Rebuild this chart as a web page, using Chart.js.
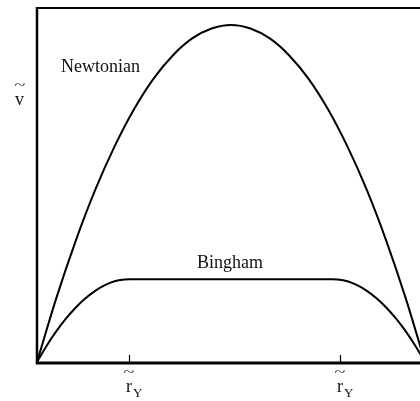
<!DOCTYPE html>
<html>
<head>
<meta charset="utf-8">
<script src="https://cdn.jsdelivr.net/npm/chart.js@4/dist/chart.umd.min.js"></script>
<style>
  html, body { margin: 0; padding: 0; background: #fff; overflow: hidden; }
  canvas { display: block; }
</style>
</head>
<body>
<canvas id="profile" width="440" height="401"></canvas>
<script>
// dimensionless radius across the pipe, wall to wall
const newtRadius = [-1, -0.9, -0.8, -0.7, -0.6, -0.5, -0.4, -0.3, -0.2, -0.1, 0,
                    0.1, 0.2, 0.3, 0.4, 0.5, 0.6, 0.7, 0.8, 0.9, 1];
const newtVelocity = [0, 0.181, 0.343, 0.486, 0.609, 0.714, 0.800, 0.866, 0.914, 0.942, 0.952,
                      0.942, 0.914, 0.866, 0.800, 0.714, 0.609, 0.486, 0.343, 0.181, 0];

const binghamRadius = [-1, -0.95, -0.9, -0.85, -0.8, -0.75, -0.7, -0.65, -0.6, -0.55, -0.52,
                       0, 0.52, 0.55, 0.6, 0.65, 0.7, 0.75, 0.8, 0.85, 0.9, 0.95, 1];
const binghamVelocity = [0, 0.046, 0.087, 0.123, 0.154, 0.180, 0.201, 0.217, 0.228, 0.233, 0.234,
                         0.234, 0.234, 0.233, 0.228, 0.217, 0.201, 0.180, 0.154, 0.123, 0.087, 0.046, 0];

// yield radius marks on the r axis
const yieldTicks = [-0.525, 0.56];

const serif = '"Liberation Serif", "DejaVu Serif", serif';

const toPoints = (xs, ys) => xs.map((x, i) => ({ x: x, y: ys[i] }));

// wide, flat tilde centred on (cx, cy)
function drawTilde(ctx, cx, cy) {
  ctx.save();
  ctx.translate(cx, cy);
  ctx.scale(1, 0.6);
  ctx.font = '20px ' + serif;
  ctx.textAlign = 'center';
  ctx.fillText('~', 0, 5.2);
  ctx.restore();
}

// frame, tick marks and all the lettering
const decorations = {
  id: 'decorations',
  afterDatasetsDraw(chart) {
    const { ctx, chartArea: a, scales } = chart;
    const xs = scales.x, ys = scales.y;
    ctx.save();
    ctx.strokeStyle = '#000';
    ctx.lineCap = 'butt';

    ctx.lineWidth = 2;
    ctx.beginPath();
    ctx.moveTo(a.left - 1, a.top);
    ctx.lineTo(a.right + 20, a.top);
    ctx.stroke();

    ctx.lineWidth = 2.5;
    ctx.beginPath();
    ctx.moveTo(a.left, a.top - 1);
    ctx.lineTo(a.left, a.bottom + 1.5);
    ctx.stroke();

    ctx.lineWidth = 3;
    ctx.beginPath();
    ctx.moveTo(a.left - 1.2, a.bottom + 1);
    ctx.lineTo(a.right + 20, a.bottom + 1);
    ctx.stroke();

    ctx.fillStyle = '#111';
    ctx.textAlign = 'left';
    ctx.textBaseline = 'alphabetic';

    yieldTicks.forEach(t => {
      const px = Math.round(xs.getPixelForValue(t)) + 0.5;
      ctx.lineWidth = 1.2;
      ctx.beginPath();
      ctx.moveTo(px, a.bottom);
      ctx.lineTo(px, a.bottom - 7);
      ctx.stroke();

      ctx.font = '18px ' + serif;
      ctx.fillText('r', px - 3.5, a.bottom + 30);
      ctx.font = '13px ' + serif;
      ctx.fillText('Y', px + 3.5, a.bottom + 35);
      drawTilde(ctx, px - 0.5, a.bottom + 11);
    });

    // axis symbol for velocity
    ctx.font = '18px ' + serif;
    ctx.fillText('v', 15, 105);
    drawTilde(ctx, 20, 86);

    // curve names
    ctx.font = '18px ' + serif;
    ctx.fillText('Newtonian', xs.getPixelForValue(-0.876), ys.getPixelForValue(0.819));
    ctx.fillText('Bingham', xs.getPixelForValue(-0.175), ys.getPixelForValue(0.266));
    ctx.restore();
  }
};

new Chart(document.getElementById('profile'), {
  type: 'line',
  data: {
    datasets: [
      {
        label: 'Newtonian',
        data: toPoints(newtRadius, newtVelocity),
        borderColor: '#000',
        borderWidth: 2,
        pointRadius: 0,
        cubicInterpolationMode: 'monotone',
        fill: false
      },
      {
        label: 'Bingham',
        data: toPoints(binghamRadius, binghamVelocity),
        borderColor: '#000',
        borderWidth: 2,
        pointRadius: 0,
        cubicInterpolationMode: 'monotone',
        fill: false
      }
    ]
  },
  options: {
    responsive: false,
    animation: false,
    devicePixelRatio: 1,
    layout: { padding: { left: 37, right: 15, top: 8, bottom: 39 } },
    plugins: { legend: { display: false }, tooltip: { enabled: false } },
    scales: {
      x: { type: 'linear', min: -1, max: 1, display: false },
      y: { type: 'linear', min: 0, max: 1, display: false }
    }
  },
  plugins: [decorations]
});
</script>
</body>
</html>
